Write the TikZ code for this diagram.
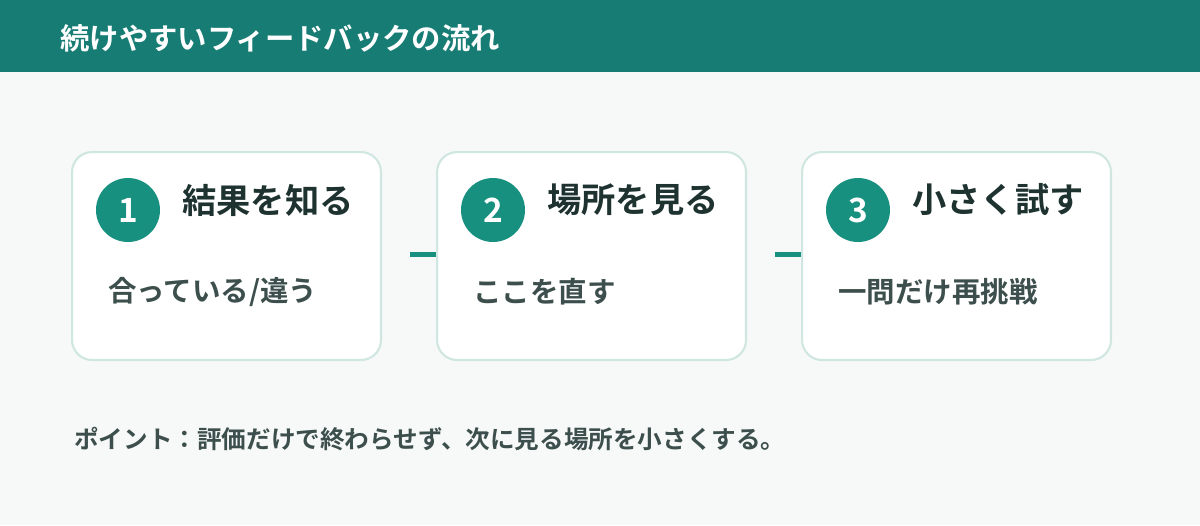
\documentclass[tikz,border=0pt]{standalone}
\usepackage{fontspec}
\newfontfamily\cjk{Noto Sans CJK JP}[BoldFont={Noto Sans CJK JP Bold}]
\definecolor{headteal}{HTML}{167C74}
\definecolor{circteal}{HTML}{17907F}
\definecolor{paper}{HTML}{F7F9F8}
\definecolor{edge}{HTML}{CFE6E1}
\definecolor{ink}{HTML}{1E3330}
\definecolor{subink}{HTML}{3D4F4C}
\begin{document}
\begin{tikzpicture}[x=0.02cm, y=-0.02cm]
    \tikzstyle{card} = [draw=edge, line width=1.2pt, fill=white, rounded corners=4mm, minimum width=6.18cm, minimum height=4.16cm, anchor=north west]
    \tikzstyle{badge} = [circle, fill=circteal, minimum size=1.28cm, inner sep=0pt, text=white, font=\cjk\bfseries\fontsize{19}{19}\selectfont]
    \tikzstyle{heading} = [anchor=west, text=ink, font=\cjk\bfseries\fontsize{19.5}{22}\selectfont, inner sep=0pt]
    \tikzstyle{detail} = [anchor=west, text=subink, font=\cjk\bfseries\fontsize{16.2}{18}\selectfont, inner sep=0pt]
    \tikzstyle{link} = [draw=circteal, line width=2.8pt, shorten <=0.56cm]

    \fill[paper] (0,0) rectangle (1200,525);
    \fill[headteal] (0,0) rectangle (1200,72);
    \node[anchor=west, text=white, font=\cjk\bfseries\fontsize{16.7}{19}\selectfont, inner sep=0pt] (title) at (60,38) {続けやすいフィードバックの流れ};

    \node[card] (card1) at (71,151) {};
    \node[card] (card2) at (436,151) {};
    \node[card] (card3) at (801,151) {};

    \node[badge] (num1) at (128,210) {1};
    \node[heading] (head1) at (182,200) {結果を知る};
    \node[detail] (text1) at (108,292) {合っている/違う};

    \node[badge] (num2) at (493,210) {2};
    \node[heading] (head2) at (547,200) {場所を見る};
    \node[detail] (text2) at (473,292) {ここを直す};

    \node[badge] (num3) at (858,210) {3};
    \node[heading] (head3) at (912,200) {小さく試す};
    \node[detail] (text3) at (838,292) {一問だけ再挑戦};

    \draw[link] ([yshift=0.04cm]card1.east) -- ([yshift=0.04cm]card2.west);
    \draw[link] ([yshift=0.04cm]card2.east) -- ([yshift=0.04cm]card3.west);

    \node[anchor=west, text=subink, font=\cjk\bfseries\fontsize{14}{16}\selectfont, inner sep=0pt] (note) at (74,439) {ポイント：評価だけで終わらせず、次に見る場所を小さくする。};
\end{tikzpicture}
\end{document}
